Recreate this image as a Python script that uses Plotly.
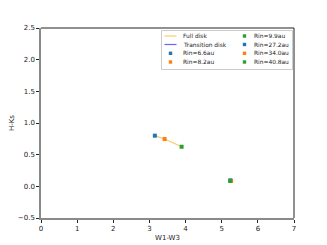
import plotly.graph_objects as go

# ---- data ----
full_w1w3 = [3.15, 3.42, 3.89]
full_hks = [0.80, 0.747, 0.625]
trans_w1w3 = [5.24, 5.26, 5.235]
trans_hks = [0.095, 0.085, 0.085]
full_rin = ["Rin=6.6au", "Rin=8.2au", "Rin=9.9au"]
trans_rin = ["Rin=27.2au", "Rin=34.0au", "Rin=40.8au"]
point_colors = ["#1f77b4", "#ff7f0e", "#2ca02c"]
x_ticks = [0, 1, 2, 3, 4, 5, 6, 7]
y_ticks = [-0.5, 0.0, 0.5, 1.0, 1.5, 2.0, 2.5]

FULL_LINE = "rgba(255,165,0,0.6)"
TRANS_LINE = "rgba(0,0,255,0.6)"
FONT = "DejaVu Sans"

# page body has an 8px margin, so the figure is drawn 8px in from the corner
OFF = 8
W, H = 327 - OFF, 245 - OFF
# plot area in page pixels
L, R, T, B = 41, 294, 28, 218

fig = go.Figure()

fig.add_trace(go.Scatter(x=full_w1w3, y=full_hks, mode="lines",
                         line=dict(color=FULL_LINE, width=1.2), showlegend=False,
                         name="Full disk"))
fig.add_trace(go.Scatter(x=trans_w1w3, y=trans_hks, mode="lines",
                         line=dict(color=TRANS_LINE, width=1.2), showlegend=False,
                         name="Transition disk"))
for xs, ys, names in [(full_w1w3, full_hks, full_rin), (trans_w1w3, trans_hks, trans_rin)]:
    for xv, yv, nm, c in zip(xs, ys, names, point_colors):
        fig.add_trace(go.Scatter(x=[xv], y=[yv], mode="markers", name=nm,
                                 marker=dict(symbol="square", size=4, color=c,
                                             line=dict(width=0)),
                                 showlegend=False))

# ---- legend (matplotlib style, two columns) ----
def px(xp):
    return (xp - L) / (R - L)

def py(yp):
    return (B - yp) / (B - T)

shapes = []
annotations = []
shapes.append(dict(type="rect", xref="paper", yref="paper",
                   x0=px(161.5), x1=px(292.5), y0=py(69.5), y1=py(30.5),
                   line=dict(color="#cccccc", width=1), fillcolor="rgba(255,255,255,0.8)",
                   layer="above"))
col1 = [("Full disk", "line", FULL_LINE), ("Transition disk", "line", TRANS_LINE),
        (full_rin[0], "sq", point_colors[0]), (full_rin[1], "sq", point_colors[1])]
col2 = [(full_rin[2], "sq", point_colors[2]), (trans_rin[0], "sq", point_colors[0]),
        (trans_rin[1], "sq", point_colors[1]), (trans_rin[2], "sq", point_colors[2])]
rows_y = [36.0, 44.5, 53.3, 62.0]
for col, kx, tx in [(col1, (164.5, 176.5), 181), (col2, (238.5, 250.5), 252)]:
    for (label, kind, color), yy in zip(col, rows_y):
        if kind == "line":
            shapes.append(dict(type="line", xref="paper", yref="paper",
                               x0=px(kx[0]), x1=px(kx[1]), y0=py(yy), y1=py(yy),
                               line=dict(color=color, width=1.2), layer="above"))
        else:
            cx = (kx[0] + kx[1]) / 2
            shapes.append(dict(type="rect", xref="paper", yref="paper",
                               x0=px(cx - 1.7), x1=px(cx + 1.7), y0=py(yy + 1.7), y1=py(yy - 1.7),
                               line=dict(width=0), fillcolor=color, layer="above"))
        annotations.append(dict(text=label, xref="paper", yref="paper", x=px(tx), y=py(yy),
                                xanchor="left", yanchor="middle", showarrow=False,
                                font=dict(family=FONT, size=5.9, color="#222222")))

# frame: top/right dark, left/bottom grey (as in reference)
shapes.append(dict(type="line", xref="paper", yref="paper", x0=0, x1=1, y0=1, y1=1,
                   line=dict(color="#222222", width=1), layer="above"))
shapes.append(dict(type="line", xref="paper", yref="paper", x0=1, x1=1, y0=0, y1=1,
                   line=dict(color="#222222", width=1), layer="above"))

fig.update_layout(
    width=W, height=H,
    margin=dict(l=L - OFF, r=W - (R - OFF), t=T - OFF, b=H - (B - OFF), pad=0,
                autoexpand=False),
    paper_bgcolor="white", plot_bgcolor="white",
    font=dict(family=FONT, size=7, color="#222222"),
    showlegend=False,
    shapes=shapes, annotations=annotations,
    xaxis=dict(range=[0, 7], tickvals=x_ticks, ticks="outside", ticklen=3, tickwidth=0.8,
               tickcolor="#222222", showgrid=False, zeroline=False, automargin=False,
               showline=True, linecolor="#8a8a8a", linewidth=1.5,
               title=dict(text="W1-W3", font=dict(size=7), standoff=3),
               tickfont=dict(size=7)),
    yaxis=dict(range=[-0.5, 2.5], tickvals=y_ticks, tickformat=".1f", ticks="outside",
               ticklen=3, tickwidth=0.8, tickcolor="#222222", showgrid=False, zeroline=False,
               automargin=False,
               showline=True, linecolor="#8a8a8a", linewidth=1.5,
               title=dict(text="H-Ks", font=dict(size=7), standoff=2),
               tickfont=dict(size=7)),
)

fig.write_html("out.html")
